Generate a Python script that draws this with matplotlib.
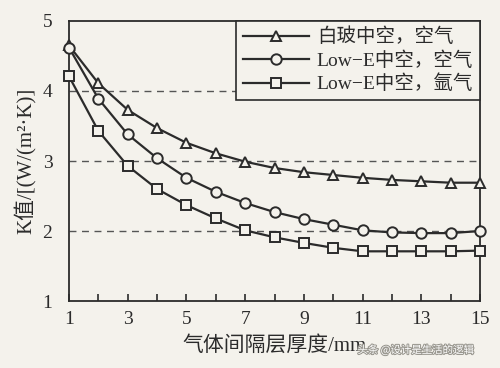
import matplotlib
matplotlib.use("Agg")
import matplotlib.pyplot as plt
import matplotlib.patheffects as pe
from matplotlib.ticker import FixedLocator, MultipleLocator

plt.rcParams["font.family"] = ["Liberation Serif", "Noto Sans CJK SC", "DejaVu Sans"]

gap_mm = [1, 2, 3, 4, 5, 6, 7, 8, 9, 10, 11, 12, 13, 14, 15]
clear_air = [4.65, 4.11, 3.73, 3.47, 3.26, 3.11, 2.99, 2.90, 2.84, 2.80, 2.76, 2.73, 2.71, 2.69, 2.69]
lowe_air = [4.62, 3.89, 3.38, 3.04, 2.76, 2.56, 2.40, 2.27, 2.17, 2.09, 2.01, 1.98, 1.97, 1.97, 2.00]
lowe_argon = [4.21, 3.43, 2.93, 2.60, 2.37, 2.18, 2.01, 1.91, 1.83, 1.76, 1.71, 1.71, 1.71, 1.71, 1.72]
labels = ["白玻中空，空气", "Low−E中空，空气", "Low−E中空，氩气"]
markers = ["^", "o", "s"]
xticks = [1, 3, 5, 7, 9, 11, 13, 15]

BG = "#f4f2ec"
INK = "#2b2b2b"

fig = plt.figure(figsize=(5.0, 3.68), dpi=100, facecolor=BG)
ax = fig.add_axes([0.138, 0.182, 0.822, 0.761], facecolor=BG)

for y in [2, 3, 4]:
    ax.axhline(y, color="#555555", lw=1.0, ls=(0, (5, 4)), zorder=1)

for ys, mk, lab in zip([clear_air, lowe_air, lowe_argon], markers, labels):
    ax.plot(gap_mm, ys, marker=mk, ms=7.5 if mk != "s" else 7, color=INK, lw=1.6,
            mfc=BG, mec=INK, mew=1.4, label=lab, zorder=3, clip_on=False)

ax.set_xlim(1, 15)
ax.set_ylim(1, 5)
ax.xaxis.set_major_locator(FixedLocator(xticks))
ax.xaxis.set_minor_locator(MultipleLocator(1))
ax.yaxis.set_major_locator(MultipleLocator(1))
ax.tick_params(axis="x", which="both", direction="in", length=5, width=1.2,
               colors=INK, labelsize=14, pad=7)
ax.tick_params(axis="y", which="both", length=0, colors=INK, labelsize=14, pad=12)
for s in ax.spines.values():
    s.set_color(INK)
    s.set_linewidth(1.3)

ax.set_xlabel("气体间隔层厚度/mm", fontsize=15, color=INK, labelpad=6)
ax.set_ylabel("K值/[(W/(m²·K)]", fontsize=15, color=INK, labelpad=4)

leg = ax.legend(loc="upper right", borderaxespad=0, fontsize=14, frameon=True,
                fancybox=False, edgecolor=INK, facecolor=BG, framealpha=1,
                handlelength=3.4, handletextpad=0.4, labelspacing=0.25,
                borderpad=0.35)
leg.get_frame().set_linewidth(1.2)
for t in leg.get_texts():
    t.set_color(INK)

fig.text(0.715, 0.04, "头条 @设计是生活的逻辑", fontsize=7.5, color="#ffffff",
         family=["Noto Sans CJK SC"],
         path_effects=[pe.withStroke(linewidth=1.5, foreground="#9a9890")])

fig.savefig("out.png", dpi=100, facecolor=BG)
